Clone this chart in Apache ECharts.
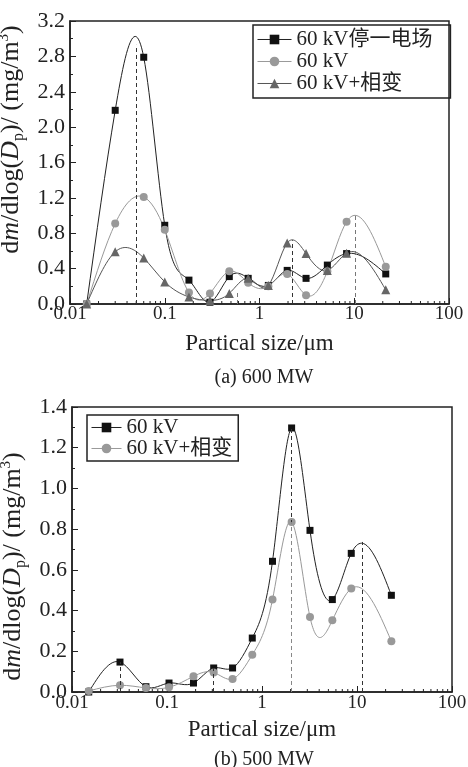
<!DOCTYPE html>
<html><head><meta charset="utf-8">
<script src="https://cdn.jsdelivr.net/npm/echarts@6/dist/echarts.min.js"></script>
<style>html,body{margin:0;padding:0;background:#fff}#c{width:468px;height:767px}</style>
</head><body><div id="c"></div>
<script>
// ---- data: (a) 600 MW ----
const xA = [0.015,0.03,0.06,0.1,0.18,0.3,0.48,0.76,1.24,1.96,3.1,5.2,8.3,21.5];
const aStop = [0,2.19,2.79,0.89,0.27,0.02,0.31,0.29,0.21,0.38,0.29,0.44,0.57,0.34];
const a60 = [0,0.91,1.21,0.84,0.13,0.12,0.37,0.24,0.2,0.34,0.1,0.37,0.93,0.42];
const aPc = [0,0.59,0.52,0.25,0.08,0.04,0.12,0.29,0.21,0.69,0.57,0.38,0.575,0.16];
// dashed guide lines [x, top y]
const aStopPeak = [[0.05,2.93]];
const a60Peak = [[0.58,0.15],[10.3,1.02]];
const aPcPeak = [[2.2,0.72]];
// ---- data: (b) 500 MW ----
const xB = [0.015,0.032,0.06,0.105,0.19,0.31,0.49,0.79,1.29,2.05,3.2,5.5,8.7,23];
const b60 = [0,0.147,0.026,0.044,0.044,0.118,0.118,0.265,0.642,1.297,0.794,0.454,0.681,0.475];
const bPc = [0.005,0.033,0.02,0.023,0.077,0.096,0.064,0.183,0.454,0.835,0.368,0.352,0.508,0.249];
const b60Peak = [[0.032,0.147],[0.31,0.118],[2.05,1.3],[11.3,0.737]];
const bPcPeak = [[2.05,0.835]];
// ---- axis ticks ----
const xTickLabels = {0.01:'0.01',0.1:'0.1',1:'1',10:'10',100:'100'};
const minorX = [0.02,0.03,0.04,0.05,0.06,0.07,0.08,0.09,0.2,0.3,0.4,0.5,0.6,0.7,0.8,0.9,2,3,4,5,6,7,8,9,20,30,40,50,60,70,80,90];
const namesA = ['60 kV停一电场','60 kV','60 kV+相变'];
const namesB = ['60 kV ','60 kV+相变 '];

const SERIF = "'Liberation Serif','Times New Roman','Noto Sans CJK SC',serif";
const INK = '#222';
const chart = echarts.init(document.getElementById('c'), null, {renderer:'canvas'});
const pairs = (xs, ys) => xs.map((x,i)=>[x, ys[i]]);

// natural cubic spline through pixel points -> SVG path (curve rendering only)
function splinePath(p){
  const n = p.length, h = [], M = new Array(n).fill(0);
  for (let i=0;i<n-1;i++) h.push(p[i+1][0]-p[i][0]);
  const a=[],b=[],c=[],r=[];
  for (let i=1;i<n-1;i++){
    a.push(h[i-1]); b.push(2*(h[i-1]+h[i])); c.push(h[i]);
    r.push(6*((p[i+1][1]-p[i][1])/h[i]-(p[i][1]-p[i-1][1])/h[i-1]));
  }
  const m = b.length;
  for (let i=1;i<m;i++){ const w=a[i]/b[i-1]; b[i]-=w*c[i-1]; r[i]-=w*r[i-1]; }
  const s = new Array(m).fill(0);
  for (let i=m-1;i>=0;i--) s[i]=(r[i]-(i<m-1?c[i]*s[i+1]:0))/b[i];
  for (let i=0;i<m;i++) M[i+1]=s[i];
  let d = 'M'+p[0][0]+' '+p[0][1];
  for (let i=0;i<n-1;i++){
    const hi=h[i], sl=(p[i+1][1]-p[i][1])/hi;
    const d0 = sl - hi*(2*M[i]+M[i+1])/6, d1 = sl + hi*(M[i]+2*M[i+1])/6;
    d += ' C'+(p[i][0]+hi/3)+' '+(p[i][1]+d0*hi/3)+' '+(p[i+1][0]-hi/3)+' '+(p[i+1][1]-d1*hi/3)+' '+p[i+1][0]+' '+p[i+1][1];
  }
  return d;
}
function curve(xi, yi, xs, ys, color){
  return {type:'custom', xAxisIndex:xi, yAxisIndex:yi, silent:true, z:2, clip:true,
    data: pairs(xs, ys),
    renderItem: function(params, api){
      if (params.dataIndex !== 0) return null;
      const pts = xs.map((x,i)=>api.coord([x, ys[i]]));
      const cs = params.coordSys;
      return {type:'path', shape:{pathData: splinePath(pts)},
        clipPath:{type:'rect', shape:{x:cs.x, y:cs.y, width:cs.width, height:cs.height}},
        style:{stroke:color, fill:'none', lineWidth:1}};
    }};
}
function mark(list, color){
  return {silent:true, symbol:'none', label:{show:false},
    lineStyle:{type:[4,3], color:color, width:1},
    data: list.map(p=>[{coord:[p[0],0]},{coord:[p[0],p[1]]}])};
}
function points(name, xi, yi, xs, ys, sym, size, color, peaks, peakColor){
  return {name, type:'line', xAxisIndex:xi, yAxisIndex:yi, data:pairs(xs,ys),
    symbol:sym, symbolSize:size, showSymbol:true,
    itemStyle:{color:color}, lineStyle:{opacity:0}, z:4,
    markLine: mark(peaks, peakColor)};
}
function minorSeries(xi, yi){
  return {type:'custom', xAxisIndex:xi, yAxisIndex:yi, silent:true, z:1,
    data: minorX.map(v=>[v,0]),
    renderItem: function(params, api){
      const p = api.coord([api.value(0), 0]);
      return {type:'line', shape:{x1:p[0], y1:p[1], x2:p[0], y2:p[1]-3},
        style:{stroke:INK, lineWidth:1}};
    }};
}
const yName = '{t|d}{i|m}{t|/dlog(}{i|D}{s|p}{t|)/ (mg/m}{u|3}{t|)}';
function yNameStyle(padding){
  return {fontFamily:SERIF, fontSize:26, color:INK, padding:padding,
    rich:{t:{fontFamily:SERIF,fontSize:26,lineHeight:30,color:INK},
        i:{fontFamily:SERIF,fontSize:26,fontStyle:'italic',lineHeight:30,color:INK},
        s:{fontFamily:SERIF,fontSize:16,lineHeight:30,verticalAlign:'bottom',color:INK},
        u:{fontFamily:SERIF,fontSize:15,lineHeight:30,verticalAlign:'top',color:INK}}};
}
function xAxis(gi, margin, gap){
  return {type:'log', logBase:10, gridIndex:gi, min:0.01, max:100,
    splitLine:{show:false},
    axisLine:{lineStyle:{color:INK, width:1.5}},
    axisTick:{inside:true, length:6, lineStyle:{color:INK}},
    axisLabel:{fontFamily:SERIF, fontSize:19, color:INK, margin:margin,
      formatter:v=>xTickLabels[+(+v).toPrecision(3)] || ''},
    name:'Partical size/μm', nameLocation:'middle', nameGap:gap,
    nameTextStyle:{fontFamily:SERIF, fontSize:23, color:INK}};
}
function yAxis(gi, max, interval, gap, padding){
  return {type:'value', gridIndex:gi, min:0, max:max, interval:interval,
    splitLine:{show:false},
    axisLine:{show:true, lineStyle:{color:INK, width:1.5}},
    axisTick:{inside:true, length:6, lineStyle:{color:INK}},
    minorTick:{show:true, splitNumber:2, length:3, lineStyle:{color:INK}},
    axisLabel:{fontFamily:SERIF, fontSize:22, color:INK, margin:5, formatter:v=>v.toFixed(1)},
    name:yName, nameLocation:'middle', nameGap:gap, nameRotate:90, nameTextStyle:yNameStyle(padding)};
}
const legendText = {fontFamily:SERIF, fontSize:21, color:INK};
const leg = (name, color) => ({name, lineStyle:{color:color, width:1, opacity:1}});
chart.setOption({
  animation:false,
  backgroundColor:'#fff',
  title:[
    {text:'(a) 600 MW', left:259, top:363, textAlign:'center', textStyle:{fontFamily:SERIF, fontSize:20, fontWeight:'normal', color:INK}},
    {text:'(b) 500 MW', left:259, top:745, textAlign:'center', textStyle:{fontFamily:SERIF, fontSize:20, fontWeight:'normal', color:INK}}
  ],
  grid:[
    {left:70, top:21, width:379, height:283, show:true, borderColor:INK, borderWidth:1.5, containLabel:false, outerBoundsMode:'none'},
    {left:72, top:407, width:380, height:285, show:true, borderColor:INK, borderWidth:1.5, containLabel:false, outerBoundsMode:'none'}
  ],
  xAxis:[xAxis(0,1,28), xAxis(1,2,26)],
  yAxis:[yAxis(0,3.2,0.4,32,[0,0,0,46]), yAxis(1,1.4,0.2,32,[0,34,0,0])],
  legend:[
    {data:[leg(namesA[0],INK),leg(namesA[1],'#999'),leg(namesA[2],'#555')],
     orient:'vertical', left:253, top:25, itemWidth:34, itemHeight:12, itemGap:1,
     padding:[4,18,4,4], borderColor:INK, borderWidth:1.5, textStyle:legendText, formatter:n=>n.trim()},
    {data:[leg(namesB[0],INK),leg(namesB[1],'#999')],
     orient:'vertical', left:87, top:415, itemWidth:30, itemHeight:12, itemGap:0,
     padding:[2,6,2,4], borderColor:INK, borderWidth:1.5, textStyle:legendText, formatter:n=>n.trim()}
  ],
  series:[
    curve(0,0,xA,aStop,INK), curve(0,0,xA,a60,'#999'), curve(0,0,xA,aPc,'#555'),
    curve(1,1,xB,b60,INK), curve(1,1,xB,bPc,'#999'),
    points(namesA[0],0,0,xA,aStop,'rect',7,'#111',aStopPeak,'#333'),
    points(namesA[1],0,0,xA,a60,'circle',8,'#999',a60Peak,'#777'),
    points(namesA[2],0,0,xA,aPc,'triangle',9,'#666',aPcPeak,'#333'),
    points(namesB[0],1,1,xB,b60,'rect',7,'#111',b60Peak,'#333'),
    points(namesB[1],1,1,xB,bPc,'circle',8,'#999',bPcPeak,'#888'),
    minorSeries(0,0), minorSeries(1,1)
  ]
});
</script></body></html>
